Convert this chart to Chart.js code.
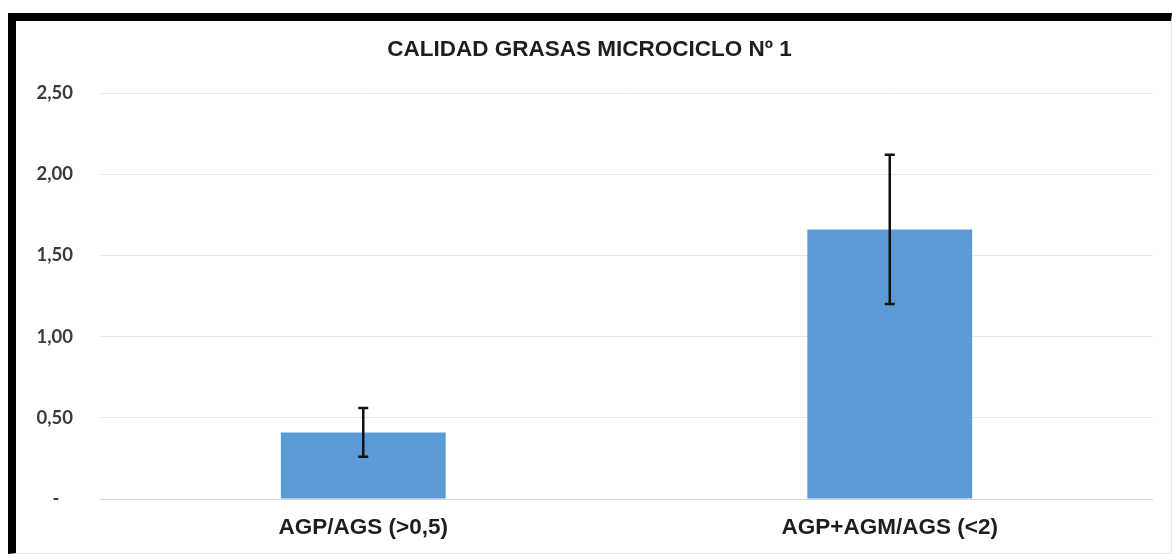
<!DOCTYPE html>
<html>
<head>
<meta charset="utf-8">
<script src="https://cdn.jsdelivr.net/npm/chart.js@4.4.1/dist/chart.umd.min.js"></script>
<style>
  html, body { margin: 0; padding: 0; background: #fff; }
  #wrap { position: relative; width: 1172px; height: 554px; overflow: hidden; }
  #frame { position: absolute; left: 8px; top: 13px; width: 1155px; height: 532px;
           border-top: 8px solid #000; border-left: 8px solid #000;
           border-right: 1px solid #e4e4e4; border-bottom: 1px solid #e4e4e4; z-index: 0; }
  #c { position: absolute; left: 0; top: 0; z-index: 1; }
</style>
</head>
<body>
<div id="wrap">
  <div id="frame"></div>
  <canvas id="c" width="1172" height="554"></canvas>
</div>
<script>
const titleText = 'CALIDAD GRASAS MICROCICLO Nº 1';
const categories = ['AGP/AGS (>0,5)', 'AGP+AGM/AGS (<2)'];
const values = [0.41, 1.66];
const errors = [0.15, 0.46];
const yTickValues = [0, 0.5, 1.0, 1.5, 2.0, 2.5];
const yTickLabels = ['-   ', '0,50', '1,00', '1,50', '2,00', '2,50'];

const errorBarPlugin = {
  id: 'errorBars',
  afterDatasetsDraw(chart) {
    const meta = chart.getDatasetMeta(0);
    const ys = chart.scales.y;
    const ctx = chart.ctx;
    ctx.save();
    ctx.strokeStyle = '#111';
    ctx.lineWidth = 2.5;
    meta.data.forEach((bar, i) => {
      const x = bar.x;
      const yT = ys.getPixelForValue(values[i] + errors[i]);
      const yB = ys.getPixelForValue(values[i] - errors[i]);
      ctx.beginPath();
      ctx.moveTo(x, yT); ctx.lineTo(x, yB);
      ctx.moveTo(x - 5, yT); ctx.lineTo(x + 5, yT);
      ctx.moveTo(x - 5, yB); ctx.lineTo(x + 5, yB);
      ctx.stroke();
    });
    ctx.restore();
  }
};

new Chart(document.getElementById('c'), {
  type: 'bar',
  data: {
    labels: categories,
    datasets: [{
      data: values,
      backgroundColor: '#5B9BD5',
      borderWidth: 0,
      categoryPercentage: 1.0,
      barPercentage: 0.313
    }]
  },
  options: {
    responsive: false,
    animation: false,
    devicePixelRatio: 1,
    layout: { padding: { left: 26, right: 19, top: 0, bottom: 0 } },
    plugins: {
      legend: { display: false },
      tooltip: { enabled: false },
      title: {
        display: true,
        text: titleText,
        color: '#1e1e1e',
        font: { family: '"Liberation Sans", Arial, sans-serif', size: 22.5, weight: 'bold' },
        padding: { top: 36, bottom: 30 }
      }
    },
    scales: {
      x: {
        grid: { display: false, drawTicks: false },
        border: { display: false },
        ticks: {
          color: '#1e1e1e',
          padding: 15,
          font: { family: '"Liberation Sans", Arial, sans-serif', size: 22.5, weight: 'bold' }
        },
        afterFit(s) { s.height = 55; }
      },
      y: {
        min: 0,
        max: 2.5,
        afterBuildTicks(s) { s.ticks = yTickValues.map(v => ({ value: v })); },
        grid: {
          drawTicks: false,
          color: ctx => (ctx.tick && ctx.tick.value === 0) ? '#d6d6d6' : '#e8e8e8',
          lineWidth: 1
        },
        border: { display: false },
        ticks: {
          color: '#3a3a3a',
          padding: 27,
          font: { family: 'Lato, "Open Sans", sans-serif', size: 18.5, weight: 'bold' },
          callback: (v, i) => yTickLabels[i]
        },
        afterFit(s) { s.width = 74; }
      }
    }
  },
  plugins: [errorBarPlugin]
});
</script>
</body>
</html>
